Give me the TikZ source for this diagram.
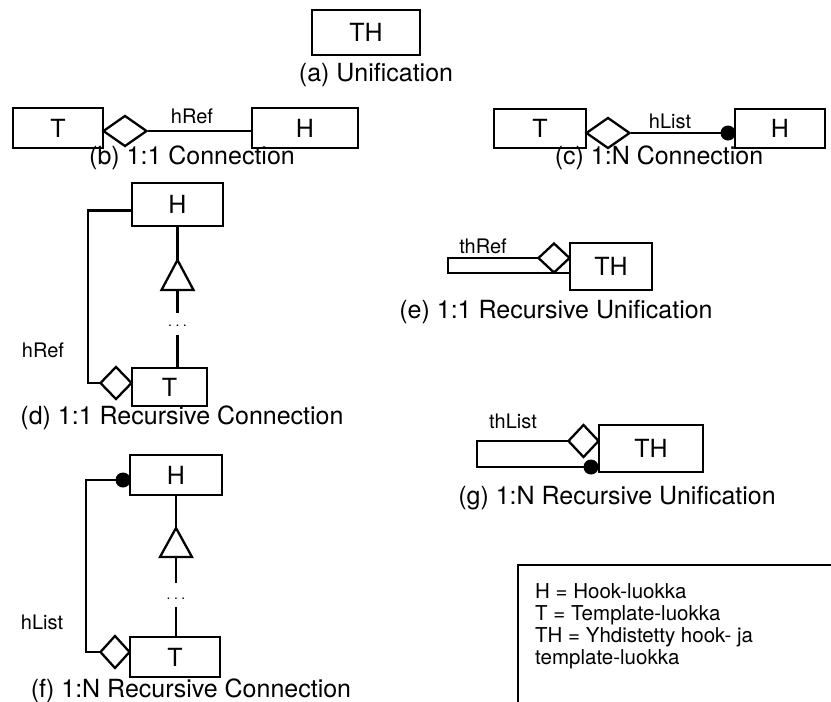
\documentclass[tikz,border=0pt]{standalone}
\usepackage{fontspec}
\setmainfont{TeX Gyre Heros}
\usetikzlibrary{shapes.geometric}
\newcommand\myboxfont{\fontsize{25}{30}\selectfont}
\newcommand\mycapfont{\fontsize{25}{30}\selectfont}
\newcommand\mylabfont{\fontsize{20}{24}\selectfont}
\newcommand\mylegfont{\fontsize{20.5}{22}\selectfont}
\tikzset{
  conn/.style={line width=2.3pt},
  box/.style={draw, rectangle, line width=2.3pt, inner sep=0pt, font=\myboxfont},
  dia/.style={draw, diamond, fill=white, inner sep=0pt, line width=2.3pt},
  blob/.style={circle, fill=black, inner sep=0pt, minimum size=15pt},
  captext/.style={inner sep=0pt, font=\mycapfont},
  lab/.style={inner sep=0pt, font=\mylabfont},
  dotsnode/.style={inner sep=0pt, font=\fontsize{14}{16}\selectfont}
}
\begin{document}
\begin{tikzpicture}[x=1pt,y=-1pt]
\useasboundingbox (0,0) rectangle (831,702);

% (a)
\node[box, minimum width=108pt, minimum height=45pt] (THa) at (366,32.5) {TH};
\node[captext] (capa) at (376,75) {(a) Unification};

% (b)
\node[box, minimum width=90pt, minimum height=40pt] (Tb) at (58,128) {T};
\node[box, minimum width=106pt, minimum height=40pt] (Hb) at (305,128) {H};
\node[dia, minimum width=44pt, minimum height=31pt] (Db) at (125,131) {};
\draw[conn] (Db.east) -- (Db.east -| Hb.west);
\node[lab] (lb) at (192,116) {hRef};
\node[captext] (capb) at (192,158) {(b) 1:1 Connection};

% (c)
\node[box, minimum width=92pt, minimum height=39pt] (Tc) at (540,128.5) {T};
\node[box, minimum width=90pt, minimum height=39pt] (Hc) at (780,128.5) {H};
\node[dia, minimum width=44pt, minimum height=31pt] (Dc) at (608,133) {};
\coordinate (Cca) at (728,133);
\draw[conn] (Dc.east) -- (Cca);
\node[blob] (Cc) at (Cca) {};
\node[lab] (lc) at (670,121) {hList};
\node[captext] (capc) at (659,158) {(c) 1:N Connection};

% (d)
\node[box, minimum width=91pt, minimum height=43pt] (Hd) at (177.5,204.5) {H};
\node[box, minimum width=75pt, minimum height=38pt] (Td) at (169.5,387) {T};
\draw[conn] (116,383) -- ++(-28,0) |- ([yshift=-6pt]Hd.west);
\node[dia, minimum width=32pt, minimum height=33pt] (Dd) at (116,383) {};
\coordinate (tipd) at (177.5,260);
\coordinate (based) at (177.5,290);
\draw[conn] (Hd.south) -- (tipd);
\draw[conn, fill=white] (tipd) -- (161.5,290) -- (193.5,290) -- cycle;
\draw[conn] (based) -- ++(0,23);
\node[dotsnode] (dotsd) at (177.5,326) {.\hspace{3.5pt}.\hspace{3.5pt}.};
\coordinate (ld) at (177.5,335);
\draw[conn] (ld) -- (ld |- Td.north);
\node[lab] (lbd) at (43,350) {hRef};
\node[captext] (capd) at (182,418) {(d) 1:1 Recursive Connection};

% (e)
\node[box, minimum width=82pt, minimum height=47pt] (THe) at (611,266.5) {TH};
\draw[conn] (554,258) -- (448,258) -- (448,273) -- ([yshift=-6.5pt]THe.west);
\node[dia, minimum width=32pt, minimum height=30pt] (De) at (554,258) {};
\node[lab] (le) at (483,246) {thRef};
\node[captext] (cape) at (556,312) {(e) 1:1 Recursive Unification};

% (g)
\node[box, minimum width=104pt, minimum height=47pt] (THg) at (651,448.5) {TH};
\coordinate (Cga) at (591,467);
\draw[conn] (583.5,441) -- (477,441) -- (477,467) -- (Cga);
\node[dia, minimum width=31pt, minimum height=33pt] (Dg) at (583.5,441) {};
\node[blob] (Cg) at (Cga) {};
\node[lab] (lg) at (513,421) {thList};
\node[captext] (capg) at (617,498) {(g) 1:N Recursive Unification};

% (f)
\node[box, minimum width=92pt, minimum height=40pt] (Hf) at (176,475) {H};
\node[box, minimum width=90pt, minimum height=40pt] (Tf) at (175,657) {T};
\coordinate (Cfa) at (123,480);
\draw[conn] (115,652) -- (86,652) |- (Cfa);
\node[dia, minimum width=30pt, minimum height=33pt] (Df) at (115,652) {};
\node[blob] (Cf) at (Cfa) {};
\coordinate (tipf) at (176,528);
\coordinate (basef) at (176,557);
\draw[conn] (Hf.south) -- (tipf);
\draw[conn, fill=white] (tipf) -- (160,557) -- (192,557) -- cycle;
\draw[conn] (basef) -- ++(0,26);
\node[dotsnode] (dotsf) at (176,599) {.\hspace{3.5pt}.\hspace{3.5pt}.};
\coordinate (lf) at (176,607);
\draw[conn] (lf) -- (lf |- Tf.north);
\node[lab] (lbf) at (42,622) {hList};
\node[captext] (capf) at (191,691) {(f) 1:N Recursive Connection};

% legend
\coordinate (lgA) at (518,702);
\coordinate (lgB) at (518,565);
\coordinate (lgC) at (831,565);
\draw[line width=2pt] (lgA) -- (lgB) -- (lgC);
\node[anchor=north west, inner sep=0pt, align=left, font=\mylegfont] (legend) at (535,583)
  {H = Hook-luokka\\T = Template-luokka\\TH = Yhdistetty hook- ja\\template-luokka};
\end{tikzpicture}
\end{document}
